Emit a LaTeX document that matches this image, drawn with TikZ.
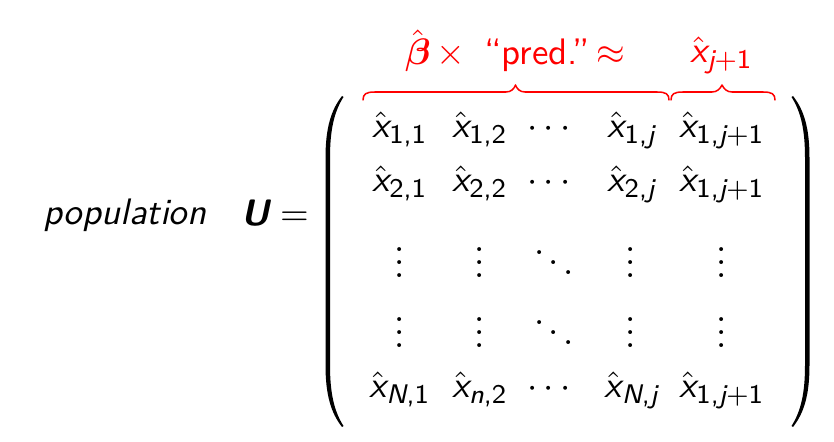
\documentclass[tikz,border=0pt]{standalone}
\usepackage{amsmath}
\newcommand\sfi[1]{\text{\sffamily\itshape #1}}
\newcommand\sfu[1]{\text{\sffamily #1}}
\newcommand\xh[1]{\hat{\text{\sffamily\itshape x}}_{#1}}
\tikzset{
  ent/.style={inner sep=0pt, anchor=base, font=\fontsize{10.95}{13.6}\selectfont},
  lab/.style={ent, text=red},
  brc/.style={draw=red, line width=0.45pt, line cap=round, line join=round},
  paren/.style={fill=black},
}
\begin{document}
\begin{tikzpicture}[x=0.297pt,y=-0.297pt]
\useasboundingbox (0,0) rectangle (834,442);
% left side
\node[ent, anchor=base west] (pop) at (43,225) {\sffamily\itshape population};
\node[ent, anchor=base west] (U) at (241,226) {$\text{\sffamily\bfseries\itshape U}=$};
% parentheses
\fill[paren] (342,96) .. controls (331,110) and (325.5,128) .. (325.5,158) -- (325.5,365)
  .. controls (325.5,395) and (331,413) .. (342,427) -- (343.5,426)
  .. controls (334,411) and (330,393) .. (330,365) -- (330,158)
  .. controls (330,130) and (334,112) .. (343.5,97) -- cycle;
\fill[paren] (793,96) .. controls (804,110) and (809.5,128) .. (809.5,158) -- (809.5,365)
  .. controls (809.5,395) and (804,413) .. (793,427) -- (791.5,426)
  .. controls (801,411) and (805,393) .. (805,365) -- (805,158)
  .. controls (805,130) and (801,112) .. (791.5,97) -- cycle;
% row 1
\node[ent] (m11) at (400,138) {$\xh{\sfu{1,1}}$};
\node[ent] (m12) at (480,138) {$\xh{\sfu{1,2}}$};
\node[ent] (m13) at (552,138) {$\cdots$};
\node[ent] (m14) at (632,138) {$\xh{\sfu{1,}\sfi{j}}$};
\node[ent] (m15) at (722,138) {$\xh{\sfu{1,}\sfi{j}+\sfu{1}}$};
% row 2
\node[ent] (m21) at (400,192) {$\xh{\sfu{2,1}}$};
\node[ent] (m22) at (480,192) {$\xh{\sfu{2,2}}$};
\node[ent] (m23) at (552,192) {$\cdots$};
\node[ent] (m24) at (632,192) {$\xh{\sfu{2,}\sfi{j}}$};
\node[ent] (m25) at (722,192) {$\xh{\sfu{1,}\sfi{j}+\sfu{1}}$};
% row 3
\node[ent] (m31) at (400,278) {$\vdots$};
\node[ent] (m32) at (480,278) {$\vdots$};
\node[ent] (m33) at (554,278) {$\ddots$};
\node[ent] (m34) at (631,278) {$\vdots$};
\node[ent] (m35) at (722,278) {$\vdots$};
% row 4
\node[ent] (m41) at (400,348) {$\vdots$};
\node[ent] (m42) at (480,348) {$\vdots$};
\node[ent] (m43) at (554,348) {$\ddots$};
\node[ent] (m44) at (631,348) {$\vdots$};
\node[ent] (m45) at (722,348) {$\vdots$};
% row 5
\node[ent] (m51) at (400,398) {$\xh{\sfi{N}\sfu{,1}}$};
\node[ent] (m52) at (480,398) {$\xh{\sfi{n}\sfu{,2}}$};
\node[ent] (m53) at (552,398) {$\cdots$};
\node[ent] (m54) at (632,398) {$\xh{\sfi{N}\sfu{,}\sfi{j}}$};
\node[ent] (m55) at (722,398) {$\xh{\sfu{1,}\sfi{j}+\sfu{1}}$};
% braces
\draw[brc] (363,100) .. controls (363,94) and (366,92) .. (375,92) -- (506,92)
  .. controls (511,92) and (514,89) .. (515.5,85) .. controls (517,89) and (520,92) .. (525,92)
  -- (657,92) .. controls (666,92) and (669,94) .. (669,100);
\draw[brc] (671,100) .. controls (671,94) and (674,92) .. (683,92) -- (712,92)
  .. controls (717,92) and (720,89) .. (722,85) .. controls (724,89) and (727,92) .. (732,92)
  -- (763,92) .. controls (772,92) and (775,94) .. (775,100);
% labels
\node[lab] (l1) at (515,65) {$\hat{\boldsymbol{\beta}}\mskip-1mu\times\hspace{0.28em}\text{\sffamily “pred.”}\mskip-2mu\approx$};
\node[lab] (l2) at (721.5,63) {$\xh{\sfi{j}+\sfu{1}}$};
\end{tikzpicture}
\end{document}
